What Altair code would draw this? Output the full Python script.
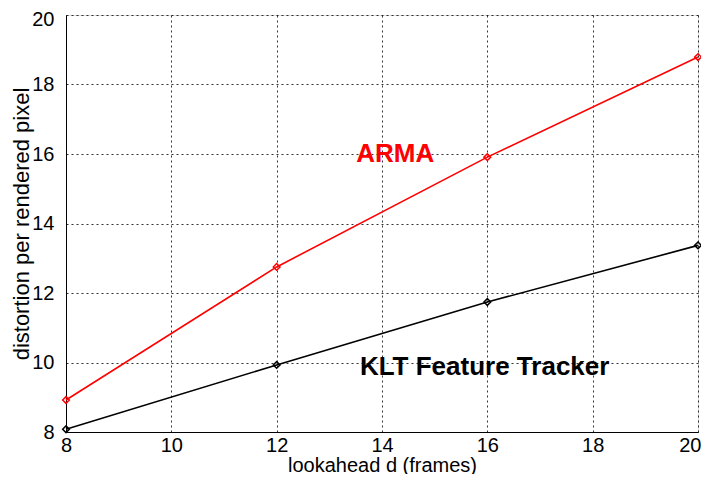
import altair as alt
import pandas as pd

lookahead = [8, 12, 16, 20]
arma = [8.92, 12.75, 15.91, 18.79]
klt = [8.08, 9.93, 11.74, 13.37]

series_names = ["ARMA", "KLT Feature Tracker"]
series_colors = ["#ff0000", "#000000"]

label_text = ["ARMA", "KLT Feature Tracker"]
label_x = [13.51, 13.58]
label_y = [15.77, 9.64]

tick_values = [8, 10, 12, 14, 16, 18, 20]

df = pd.DataFrame({
    "d": lookahead * 2,
    "v": arma + klt,
    "s": [series_names[0]] * 4 + [series_names[1]] * 4,
})
lab = pd.DataFrame({"t": label_text, "x": label_x, "y": label_y, "s": series_names})

FONT = "Liberation Sans"

xs = alt.Scale(domain=[8, 20], nice=False, zero=False)
ys = alt.Scale(domain=[8, 20], nice=False, zero=False)
cs = alt.Scale(domain=series_names, range=series_colors)

xax = alt.Axis(values=tick_values, title="lookahead d (frames)",
               grid=True, gridDash=[2, 3], gridColor="#000000", gridOpacity=0.8,
               domainColor="#000000", tickSize=0, labelPadding=3,
               labelFontSize=20, labelFont=FONT, labelColor="#000000",
               labelAlign={"condition": {"test": "datum.value == 20", "value": "right"}, "value": "center"},
               labelOffset={"condition": {"test": "datum.value == 20", "value": 3}, "value": 0},
               titleFontSize=20, titleFont=FONT, titleFontWeight="normal",
               titleColor="#000000", titleY=39, titleBaseline="alphabetic",
               labelFlush=False)
yax = alt.Axis(values=tick_values, title="distortion per rendered pixel",
               grid=True, gridDash=[2, 3], gridColor="#000000", gridOpacity=0.8,
               domainColor="#000000", tickSize=0, labelPadding=12,
               labelFontSize=20, labelFont=FONT, labelColor="#000000",
               labelOffset={"condition": {"test": "datum.value == 20", "value": 4}, "value": 0},
               titleFontSize=22, titleFont=FONT, titleFontWeight="normal",
               titleColor="#000000", titleX=-38, titleBaseline="alphabetic",
               labelFlush=False)

lines = alt.Chart(df).mark_line(strokeWidth=1.6, point=alt.OverlayMarkDef(
    shape="diamond", filled=False, size=45, strokeWidth=1.5)).encode(
    x=alt.X("d:Q", scale=xs, axis=xax),
    y=alt.Y("v:Q", scale=ys, axis=yax),
    color=alt.Color("s:N", scale=cs, legend=None),
    detail="s:N",
)

texts = alt.Chart(lab).mark_text(align="left", baseline="alphabetic", fontSize=26,
                                 fontWeight="bold", font=FONT).encode(
    x=alt.X("x:Q", scale=xs),
    y=alt.Y("y:Q", scale=ys),
    text="t:N",
    color=alt.Color("s:N", scale=cs, legend=None),
)

chart = alt.layer(lines, texts).properties(
    width=632, height=417,
    autosize=alt.AutoSizeParams(type="none"),
    padding={"left": 58, "top": 7, "right": 3, "bottom": 42},
).configure_view(stroke="#000000", strokeWidth=1.2).configure(background="white")

chart.save("out.html", embed_options={"renderer": "svg", "actions": False})
